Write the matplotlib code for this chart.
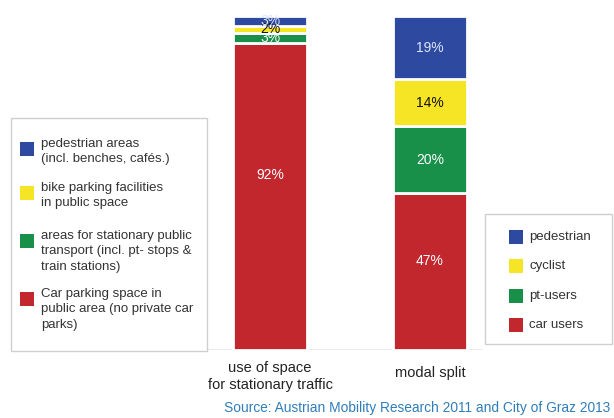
import matplotlib
matplotlib.use("Agg")
import matplotlib.pyplot as plt
from matplotlib.patches import Rectangle
import numpy as np

plt.rcParams['font.family'] = ['Liberation Sans', 'DejaVu Sans']

# ---- data ----
categories = ["use of space\nfor stationary traffic", "modal split"]
segment_names_space = ["Car parking space in\npublic area (no private car\nparks)",
                       "areas for stationary public\ntransport (incl. pt- stops &\ntrain stations)",
                       "bike parking facilities\nin public space",
                       "pedestrian areas\n(incl. benches, cafés.)"]
segment_names_modal = ["car users", "pt-users", "cyclist", "pedestrian"]
space_values = [92, 3, 2, 3]     # bottom -> top: car, pt, bike, pedestrian
modal_values = [47, 20, 14, 19]  # bottom -> top: car, pt, cyclist, pedestrian
source_text = "Source: Austrian Mobility Research 2011 and City of Graz 2013"

# ---- style ----
colors = ["#C1272D", "#18904A", "#F6E524", "#2E4AA0"]
label_colors = ["white", "white", "#111111", "#DDE4FF"]
W, H = 614, 418
fig = plt.figure(figsize=(W / 100, H / 100), dpi=100)
fig.patch.set_facecolor("white")

def fx(x):
    return x / W

def fy(y):
    return 1 - y / H

# bar axes: pixel x 190..510, y 16..350
ax = fig.add_axes([fx(190), fy(350), fx(320), (350 - 16) / H])
ax.set_xlim(-0.5, 1.5)
ax.set_ylim(0, 100)
ax.axis("off")

bar_w = 0.465
series = [space_values, modal_values]
for i, vals in enumerate(series):
    bottom = 0
    for j, v in enumerate(vals):
        ax.bar(i, v, bottom=bottom, width=bar_w, color=colors[j],
               edgecolor="white", linewidth=2.0)
        yc = bottom + v / 2
        if j == 0:
            yc = bottom + v * 0.57
        ax.text(i, yc, f"{v}%", ha="center", va="center",
                color=label_colors[j], fontsize=10)
        bottom += v

ax.axhline(0, xmin=(207 - 190) / 320, xmax=(482 - 190) / 320,
           color="#e6e6e6", linewidth=1.2, zorder=0)

# category labels
ax.text(0, -3.3, categories[0], ha="center", va="top", fontsize=10.5,
        color="#222222", linespacing=1.25)
ax.text(1, -4.7, categories[1], ha="center", va="top", fontsize=10.5,
        color="#222222")

# ---- left legend box ----
fig.patches.append(Rectangle((fx(11), fy(351)), fx(196), (351 - 118) / H,
                             transform=fig.transFigure, facecolor="white",
                             edgecolor="#cfcfcf", linewidth=1.0))
left_tops = [142, 186, 234, 292]
order = [3, 2, 1, 0]
for k, j in enumerate(order):
    top = left_tops[k]
    fig.patches.append(Rectangle((fx(20), fy(top + 14)), fx(14), 14 / H,
                                 transform=fig.transFigure, facecolor=colors[j],
                                 edgecolor="none"))
    fig.text(fx(41), fy(top - 4), segment_names_space[j], ha="left", va="top",
             fontsize=9.5, color="#333333", linespacing=1.38)

# ---- right legend box ----
fig.patches.append(Rectangle((fx(485), fy(344)), fx(127), (344 - 214) / H,
                             transform=fig.transFigure, facecolor="white",
                             edgecolor="#cfcfcf", linewidth=1.0))
right_centers = [237, 266, 296, 325]
for k, j in enumerate(order):
    yc = right_centers[k]
    fig.patches.append(Rectangle((fx(509), fy(yc + 7)), fx(14), 14 / H,
                                 transform=fig.transFigure, facecolor=colors[j],
                                 edgecolor="none"))
    fig.text(fx(529), fy(yc), segment_names_modal[j], ha="left", va="center",
             fontsize=9.5, color="#333333")

# source
fig.text(fx(224), fy(408), source_text, ha="left", va="center",
         fontsize=9.9, color="#2F7DBB")

fig.savefig("out.png", dpi=100, facecolor="white")
